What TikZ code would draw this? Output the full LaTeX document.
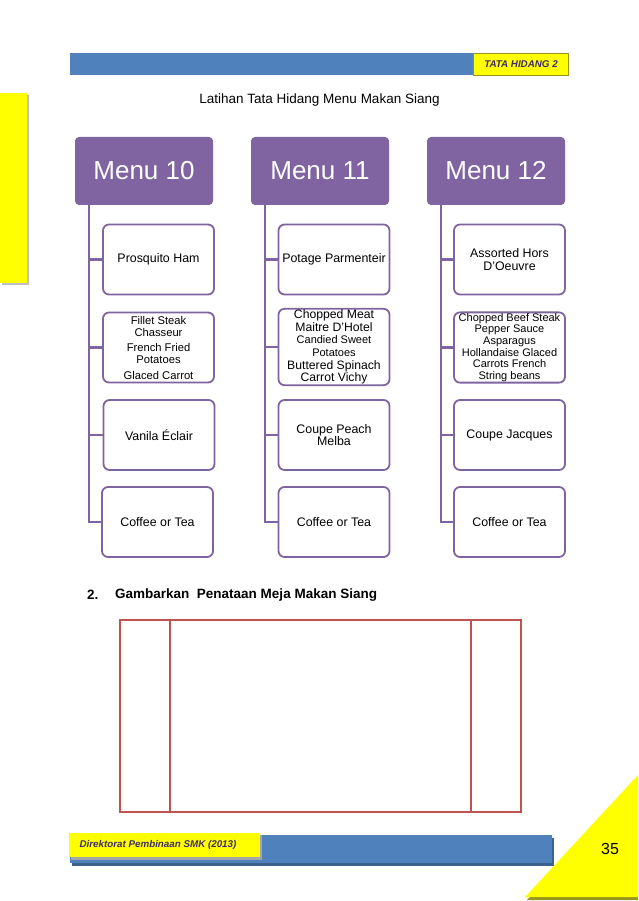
\documentclass[tikz,border=0pt]{standalone}
\usepackage{fontspec}
\setmainfont{Liberation Sans}
\definecolor{mpurple}{RGB}{128,100,162}
\definecolor{mborder}{RGB}{126,101,160}
\definecolor{tblred}{RGB}{190,84,82}
\definecolor{barblue}{RGB}{79,129,189}
\definecolor{ylw}{RGB}{255,255,0}
\definecolor{darkpurple}{RGB}{62,42,105}
\definecolor{ylwshadow}{RGB}{150,150,30}
\newcommand{\smf}{\fontsize{11}{11.6}\selectfont}
\newcommand{\mdf}{\fontsize{12.2}{12.6}\selectfont}
\tikzset{
  hdr/.style={fill=mpurple, rounded corners=4pt, text=white, minimum width=138pt,
    minimum height=68pt, inner sep=0pt, font=\fontsize{26}{30}\selectfont},
  item/.style={draw=mborder, line width=1.8pt, fill=white, rounded corners=6pt,
    minimum width=111pt, minimum height=70pt, inner sep=1pt, align=center,
    font=\fontsize{12.4}{12.3}\selectfont},
  conn/.style={draw=mpurple, line width=2.6pt},
  tbl/.style={draw=tblred, line width=2pt},
  bartext/.style={font=\fontsize{9.8}{11}\selectfont\bfseries\itshape, text=darkpurple, inner sep=0pt},
}
\begin{document}
\begin{tikzpicture}[x=1pt,y=-1pt]
\useasboundingbox (0,0) rectangle (638,901);
\fill[white] (0,0) rectangle (638,901);

% top bar
\fill[barblue] (70,53) rectangle (473,75);
\fill[ylw] (473,53) rectangle (568,75);
\draw[ylwshadow, line width=0.6pt] (473,53) rectangle (568,75);
\node[bartext] (tata) at (521,64) {TATA HIDANG 2};

% left strip
\fill[black!25] (2,95) rectangle (29,285);
\fill[ylw] (0,93) rectangle (27,283);

% title
\node[font=\fontsize{13.5}{16}\selectfont] (title) at (319.5,100) {Latihan Tata Hidang Menu Makan Siang};

% headers
\node[hdr] (h10) at (144,171) {Menu 10};
\node[hdr] (h11) at (320,171) {Menu 11};
\node[hdr] (h12) at (496,171) {Menu 12};

% Menu 10 items
\node[item] (a1) at (158.5,259.5) {Prosquito Ham};
\node[item, font=\fontsize{11.2}{12}\selectfont] (a2) at (158.5,347.5)
  {Fillet Steak\\Chasseur\\[3.5pt]French Fried\\Potatoes\\[3.5pt]Glaced Carrot};
\node[item] (a3) at (159,435) {Vanila Éclair};
\node[item] (a4) at (157.5,522) {Coffee or Tea};

% Menu 11 items
\node[item] (b1) at (334,259.5) {Potage Parmenteir};
\node[item, font=\fontsize{12.2}{12.6}\selectfont] (b2) at (334,347)
  {\mdf Chopped Meat\\\mdf Maitre D’Hotel\\\smf Candied Sweet\\\smf Potatoes\\\mdf Buttered Spinach\\\mdf Carrot Vichy};
\node[item] (b3) at (334,435) {Coupe Peach\\Melba};
\node[item] (b4) at (334,522) {Coffee or Tea};

% Menu 12 items
\node[item] (c1) at (509.5,259.5) {Assorted Hors\\D’Oeuvre};
\node[item, font=\fontsize{11}{11.6}\selectfont] (c2) at (509.5,347.5)
  {Chopped Beef Steak\\Pepper Sauce\\Asparagus\\Hollandaise Glaced\\Carrots French\\String beans};
\node[item] (c3) at (509.5,435) {Coupe Jacques};
\node[item] (c4) at (509.5,522) {Coffee or Tea};

% connectors
\coordinate (v10) at (89,205);
\coordinate (v11) at (265,205);
\coordinate (v12) at (441,205);
\draw[conn] (v10) |- (a4.west);
\draw[conn] (v10 |- a1.west) -- (a1.west);
\draw[conn] (v10 |- a2.west) -- (a2.west);
\draw[conn] (v10 |- a3.west) -- (a3.west);
\draw[conn] (v11) |- (b4.west);
\draw[conn] (v11 |- b1.west) -- (b1.west);
\draw[conn] (v11 |- b2.west) -- (b2.west);
\draw[conn] (v11 |- b3.west) -- (b3.west);
\draw[conn] (v12) |- (c4.west);
\draw[conn] (v12 |- c1.west) -- (c1.west);
\draw[conn] (v12 |- c2.west) -- (c2.west);
\draw[conn] (v12 |- c3.west) -- (c3.west);

% section 2
\node[anchor=west, font=\fontsize{13.5}{16}\selectfont\bfseries, inner sep=0pt] (num) at (87,595) {2.};
\node[anchor=west, font=\fontsize{13.5}{16}\selectfont\bfseries, inner sep=0pt] (sec) at (115,595) {Gambarkan\ \ Penataan Meja Makan Siang};

% table drawing
\draw[tbl] (120,620) rectangle (521,812);
\draw[tbl] (170,620) -- (170,812);
\draw[tbl] (471,620) -- (471,812);

% footer
\fill[barblue!75!black] (72,838) rectangle (554,866);
\fill[barblue] (70,835) rectangle (552,863);
\fill[black!35] (71,835) rectangle (262,860);
\fill[ylw] (69,833) rectangle (260,857);
\node[bartext] (dir) at (158,845) {Direktorat Pembinaan SMK (2013)};

% corner triangle
\fill[ylwshadow] (527,900) -- (638,900) -- (638,778) -- cycle;
\fill[ylw] (525,897) -- (638,897) -- (638,775) -- cycle;
\node[font=\fontsize{16}{19}\selectfont] (page) at (610,849) {35};
\end{tikzpicture}
\end{document}
